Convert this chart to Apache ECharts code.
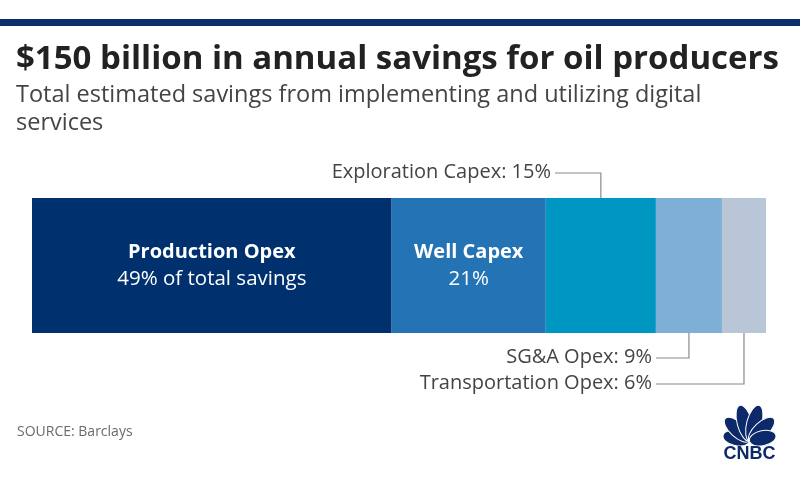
<!DOCTYPE html>
<html>
<head>
<meta charset="utf-8">
<script src="https://cdn.jsdelivr.net/npm/echarts@6/dist/echarts.min.js"></script>
<style>
html,body{margin:0;padding:0;background:#fff;}
#main{width:800px;height:500px;}
</style>
</head>
<body>
<div id="main"></div>
<script>
// ---- data ----
var categories = ['Production Opex', 'Well Capex', 'Exploration Capex', 'SG&A Opex', 'Transportation Opex'];
var shares = [49, 21, 15, 9, 6];
var colors = ['#00306e', '#2473b5', '#0096c2', '#7eb0d5', '#b8c6d7'];
var titleText = '$150 billion in annual savings for oil producers';
var subtitleText = 'Total estimated savings from implementing and utilizing digital\nservices';
var sourceText = 'SOURCE: Barclays';

var FONT = 'Open Sans';
var chart = echarts.init(document.getElementById('main'), null, {renderer: 'canvas'});

var series = categories.map(function (c, i) {
  var s = {
    name: c,
    type: 'bar',
    stack: 'total',
    barWidth: 135,
    data: [shares[i]],
    itemStyle: {color: colors[i]},
    emphasis: {disabled: true},
    silent: true
  };
  var rich = {b: {fontFamily: FONT, fontWeight: 'bold', fontSize: 20, color: '#fff', lineHeight: 27},
              n: {fontFamily: FONT, fontSize: 20.5, color: '#fff', lineHeight: 27}};
  if (i === 0) {
    s.label = {show: true, position: 'inside', formatter: '{b|' + c + '}\n{n|' + shares[i] + '% of total savings}', rich: rich};
  } else if (i === 1) {
    s.label = {show: true, position: 'inside', formatter: '{b|' + c + '}\n{n|' + shares[i] + '%}', rich: rich};
  }
  return s;
});

var option = {
  animation: false,
  grid: {left: 32, right: 34, top: 198, height: 135},
  xAxis: {type: 'value', min: 0, max: 100, show: false},
  yAxis: {type: 'category', data: ['Savings'], show: false},
  series: series,
  graphic: []
};
chart.setOption(option);

// callout annotations computed from axis scales
function px(v) { return chart.convertToPixel({xAxisIndex: 0}, v); }
var cum = [];
var acc = 0;
shares.forEach(function (v) { cum.push(acc); acc += v; });
var barTop = 198, barBottom = 333;
var lineColor = '#8a8a8a';
var g = [];
// top header rule
g.push({type: 'rect', shape: {x: 0, y: 19, width: 800, height: 7}, style: {fill: '#0c2f6b'}});
g.push({type: 'text', left: 16, top: 43, style: {text: titleText, fontFamily: FONT, fontWeight: 'bold', fontSize: 33, fill: '#222'}});
g.push({type: 'text', left: 16, top: 81, style: {text: subtitleText, fontFamily: FONT, fontSize: 23.5, fill: '#444', lineHeight: 28}});
g.push({type: 'text', left: 17, top: 425, style: {text: sourceText, fontFamily: FONT, fontSize: 14, fill: '#6a6a6a'}});

var calloutFont = {fontFamily: FONT, fontSize: 20, fill: '#444', align: 'right', verticalAlign: 'middle'};
function txt(x, y, t) {
  return {type: 'text', x: x, y: y, style: Object.assign({text: t}, calloutFont)};
}
// Exploration callout (above)
var xE = px(cum[2] + shares[2] / 2);
g.push({type: 'polyline', shape: {points: [[555, 173], [xE, 173], [xE, barTop]]}, style: {stroke: lineColor, lineWidth: 1.2, fill: null}});
g.push(txt(551, 172, categories[2] + ': ' + shares[2] + '%'));
// SG&A callout
var xS = px(cum[3] + shares[3] / 2);
g.push({type: 'polyline', shape: {points: [[xS, barBottom], [xS, 358], [656, 358]]}, style: {stroke: lineColor, lineWidth: 1.2, fill: null}});
g.push(txt(652, 357, categories[3] + ': ' + shares[3] + '%'));
// Transportation callout
var xT = px(cum[4] + shares[4] / 2);
g.push({type: 'polyline', shape: {points: [[xT, barBottom], [xT, 384], [656, 384]]}, style: {stroke: lineColor, lineWidth: 1.2, fill: null}});
g.push(txt(652, 383, categories[4] + ': ' + shares[4] + '%'));

// CNBC peacock logo
var cx = 749.5, cy = 441, navy = '#0c2a6a';
var feathers = [[-78, 27], [-47, 33], [-15, 37], [15, 37], [47, 33], [78, 27]];
feathers.forEach(function (f) {
  g.push({type: 'ellipse', x: cx, y: cy, rotation: -f[0] * Math.PI / 180,
    shape: {cx: 0, cy: -f[1] / 2, rx: 7.5, ry: f[1] / 2}, style: {fill: navy, stroke: '#fff', lineWidth: 1}});
});
g.push({type: 'text', x: cx, y: 454, style: {text: 'CNBC', fontFamily: 'Liberation Sans', fontWeight: 'bold', fontSize: 18, fill: navy, align: 'center', verticalAlign: 'middle'}});

chart.setOption({graphic: g});
</script>
</body>
</html>
